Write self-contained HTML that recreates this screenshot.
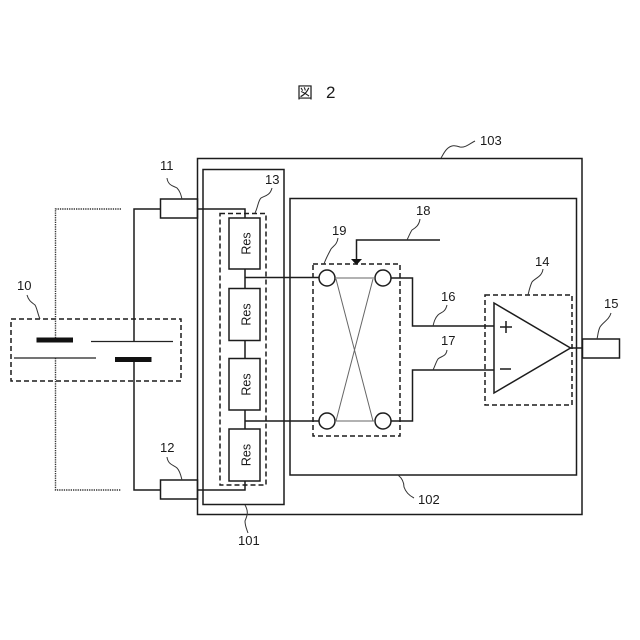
<!DOCTYPE html>
<html><head><meta charset="utf-8"><style>html,body{margin:0;padding:0;background:#fff}svg{display:block}text{font-family:"Liberation Sans","Noto Sans CJK JP",sans-serif;fill:#1a1a1a}</style></head>
<body>
<svg width="640" height="640" viewBox="0 0 640 640" xmlns="http://www.w3.org/2000/svg">
<rect width="640" height="640" fill="#fff"/>
<g fill="none" stroke="#1c1c1c" stroke-width="1.5">
<rect x="197.5" y="158.5" width="384.5" height="356"/>
<rect x="203" y="169.5" width="81" height="335"/>
<rect x="290" y="198.5" width="286.5" height="276.5"/>
<rect x="160.5" y="199" width="37" height="19"/>
<rect x="160.5" y="480" width="37" height="19"/>
<rect x="582.5" y="339" width="37" height="19"/>
<path d="M134 341.5V209H160.5M197.5 209H245V218M134 359V490H160.5M197.5 490H245V481"/>
<path d="M245 269V288M245 340V358.5M245 410V429"/>
<rect x="229" y="218" width="31" height="51"/>
<rect x="229" y="288.5" width="31" height="52"/>
<rect x="229" y="358.5" width="31" height="51.5"/>
<rect x="229" y="429" width="31" height="52"/>
<path d="M245 277.5H319M245 421H319"/>
<path d="M391 278H412.5V326H494M391 421H412.5V370H494"/>
<path d="M440 240H356.5V259"/>
<circle cx="327" cy="278" r="8" fill="#fff"/><circle cx="383" cy="278" r="8" fill="#fff"/>
<circle cx="327" cy="421" r="8" fill="#fff"/><circle cx="383" cy="421" r="8" fill="#fff"/>
<path d="M494 303L570.5 348L494 393Z"/>
<path d="M570.5 348H582.5"/>
<path d="M500 327H512M506 321V333M500 369H511"/>
</g>
<path d="M335 278H375M335 421H375M336 279L373 421M373 279L336 421" fill="none" stroke="#666" stroke-width="1"/>
<path d="M351 259H362L356.5 265Z" fill="#111"/>
<g fill="none" stroke="#1c1c1c" stroke-width="1.5" stroke-dasharray="5 3">
<rect x="11" y="319" width="170" height="62"/>
<rect x="220" y="213.5" width="46" height="271.5"/>
<rect x="313" y="264" width="87" height="172"/>
<rect x="485" y="295" width="87" height="110"/>
</g>
<path d="M121 209H55.5V341M55.5 358V490H121" fill="none" stroke="#333" stroke-width="1.4" stroke-dasharray="1.3 1"/>
<rect x="36.5" y="337.5" width="36.5" height="5" fill="#111"/>
<rect x="115" y="357" width="36.5" height="5" fill="#111"/>
<path d="M91 341.5H173M14 358H96" fill="none" stroke="#222" stroke-width="1.3"/>
<g fill="none" stroke="#333" stroke-width="1">
<path d="M167 178C168 186 174 186 177 188C180 191 181 195 182 199"/>
<path d="M167 457C168 465 174 465 177 468C180 471 181 476 182 480"/>
<path d="M272 188C270 196 264 196 261 198C258 201 258 207 255 213"/>
<path d="M27 295C29 302 33 303 35 305C37 308 38 315 40 319"/>
<path d="M245 505C249 512 247 516 245 521C245 526 247 530 248 533"/>
<path d="M398 475C403 479 404 483 404 487C406 493 410 496 414 498"/>
<path d="M420 219C419 226 415 228 412 230C410 233 409 236 407 240"/>
<path d="M338 238C337 245 333 246 331 249C329 253 326 258 324 264"/>
<path d="M447 305C445 313 441 312 438 315C435 318 434 322 433 326"/>
<path d="M447 350C446 357 441 356 438 359C436 362 435 366 433 370"/>
<path d="M543 269C542 277 535 278 532 282C530 286 529 291 528 295"/>
<path d="M611 313C609 320 603 322 600 327C598 331 598 335 597 339"/>
<path d="M475 141C469 144 465 148 460 147C455 145 451 145 447 149C444 152 443 155 441 158"/>
</g>
<g font-size="13">
<text x="160" y="170">11</text>
<text x="160" y="452">12</text>
<text x="265" y="184">13</text>
<text x="535" y="266">14</text>
<text x="604" y="308">15</text>
<text x="441" y="301">16</text>
<text x="441" y="345">17</text>
<text x="416" y="215">18</text>
<text x="332" y="235">19</text>
<text x="17" y="290">10</text>
<text x="238" y="545">101</text>
<text x="418" y="504">102</text>
<text x="480" y="145">103</text>
</g>
<g font-size="12.5" text-anchor="middle">
<text transform="translate(250.5 243.5) rotate(-90)">Res</text>
<text transform="translate(250.5 314.5) rotate(-90)">Res</text>
<text transform="translate(250.5 384.5) rotate(-90)">Res</text>
<text transform="translate(250.5 455) rotate(-90)">Res</text>
</g>
<text x="297" y="98" font-size="16">図</text>
<text x="326" y="98" font-size="17">2</text>
</svg>
</body></html>
